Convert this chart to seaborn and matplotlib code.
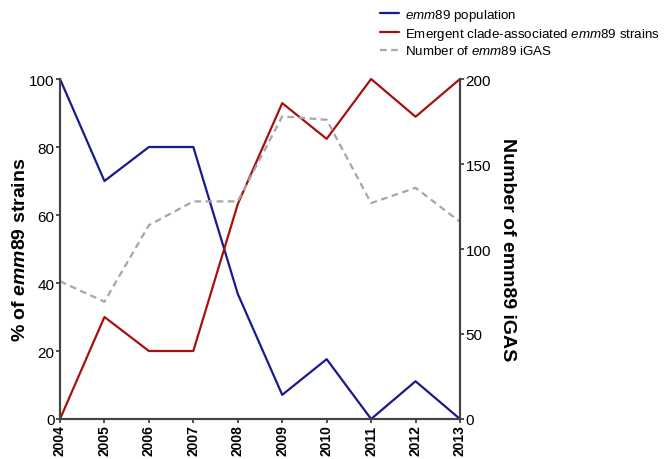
import numpy as np
import pandas as pd
import seaborn as sns
import matplotlib.pyplot as plt
from matplotlib.ticker import MultipleLocator

years = [2004, 2005, 2006, 2007, 2008, 2009, 2010, 2011, 2012, 2013]
pct_population = [100, 70, 80, 80, 36.8, 7.1, 17.6, 0, 11.1, 0]
pct_emergent = [0, 30, 20, 20, 63.2, 92.9, 82.4, 100, 88.9, 100]
n_igas = [81, 69, 114, 128, 128, 178, 176, 127, 136, 116]

sns.set_style("ticks")
plt.rcParams['font.family'] = ['Liberation Sans', 'DejaVu Sans']
plt.rcParams['text.color'] = 'black'
plt.rcParams['axes.labelcolor'] = 'black'
plt.rcParams['mathtext.fontset'] = 'custom'
plt.rcParams['mathtext.it'] = 'Liberation Sans:italic'
plt.rcParams['mathtext.bf'] = 'Liberation Sans:bold:italic'
plt.rcParams['mathtext.rm'] = 'Liberation Sans'

df = pd.DataFrame({
    "year": years,
    "population": pct_population,
    "emergent": pct_emergent,
    "igas": n_igas,
})

fig = plt.figure(figsize=(6.64, 4.6), dpi=100)
ax = fig.add_axes([60 / 664, 40 / 460, 400 / 664, 340 / 460])
ax2 = ax.twinx()

blue = "#1a1a8e"
red = "#a81010"
grey = "#a6a6a6"

sns.lineplot(data=df, x="year", y="population", ax=ax, color=blue, lw=1.6,
             label=r"$\it{emm}$89 population", legend=False, clip_on=False)
sns.lineplot(data=df, x="year", y="emergent", ax=ax, color=red, lw=1.6,
             label=r"Emergent clade-associated $\it{emm}$89 strains", legend=False, clip_on=False)
sns.lineplot(data=df, x="year", y="igas", ax=ax2, color=grey, lw=1.6, linestyle=(0, (3, 2)),
             label=r"Number of $\it{emm}$89 iGAS", legend=False, clip_on=False)

ax.set_xlim(2004, 2013)
ax.set_ylim(0, 100)
ax2.set_ylim(0, 200)
ax.set_xticks(years)
ax.set_xticklabels([str(y) for y in years], rotation=90, fontsize=10, fontweight="bold")
ax.yaxis.set_major_locator(MultipleLocator(20))
ax2.yaxis.set_major_locator(MultipleLocator(50))
ax.tick_params(axis="y", labelsize=11, length=3, width=1.3, color="#444444", pad=1, labelcolor="black")
ax.tick_params(axis="x", length=3, width=1.3, color="#444444", pad=1, labelcolor="black")
ax2.tick_params(axis="y", labelsize=11, length=3, width=1.3, color="#444444", pad=1, labelcolor="black")

ax.set_xlabel("")
ax.set_ylabel(r"% of $\mathbf{emm}$89 strains", fontsize=14, fontweight="bold", labelpad=0)
ax2.set_ylabel("Number of emm89 iGAS", fontsize=14, fontweight="bold", rotation=270, labelpad=18)

for a in (ax, ax2):
    a.spines["top"].set_visible(False)
    for s in ("left", "right", "bottom"):
        a.spines[s].set_linewidth(1.5)
        a.spines[s].set_color("#444444")

handles = ax.get_lines()[:2] + ax2.get_lines()[:1]
labels = [h.get_label() for h in handles]
fig.legend(handles, labels, loc="upper left", bbox_to_anchor=(372 / 664, 1.0),
           frameon=False, fontsize=9.6, handlelength=1.4, handletextpad=0.5,
           labelspacing=0.2, borderaxespad=0.2)

plt.savefig("out.png", dpi=100)
